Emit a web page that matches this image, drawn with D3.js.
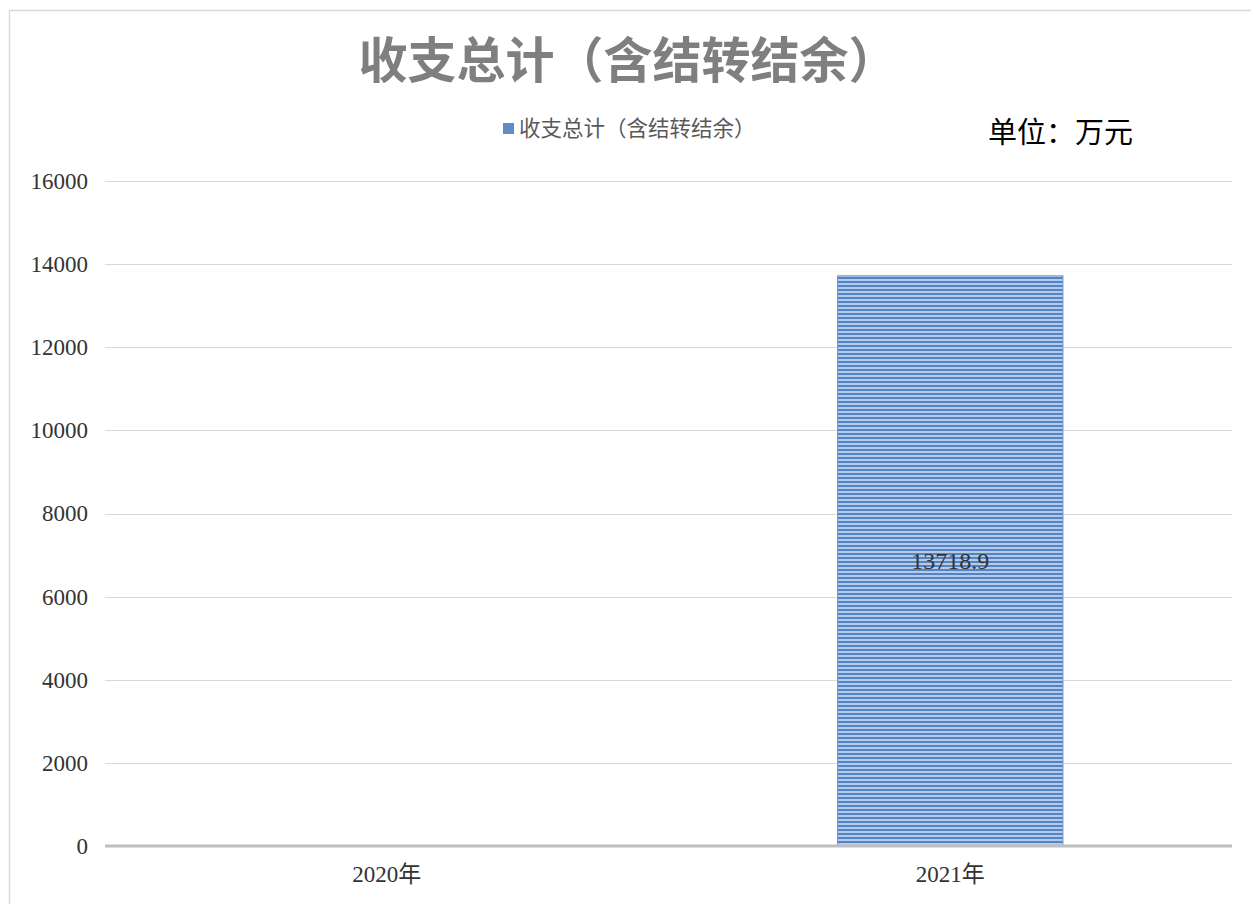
<!DOCTYPE html>
<html>
<head>
<meta charset="utf-8">
<script src="https://cdn.jsdelivr.net/npm/d3@7"></script>
<style>
  body { margin: 0; background: #fff; }
  svg { display: block; }
</style>
</head>
<body>
<div id="chart"></div>
<script>
// chart data
const categories = ["2020年", "2021年"];
const values = [0, 13718.9];
const yTicks = [0, 2000, 4000, 6000, 8000, 10000, 12000, 14000, 16000];
const seriesName = "收支总计（含结转结余）";
const titleText = "收支总计（含结转结余）";
const unitText = "单位：万元";

const W = 1251, H = 904;
const margin = { top: 181, right: 19, bottom: 58, left: 105 };
const width = W - margin.left - margin.right;
const height = H - margin.top - margin.bottom;

const serif = "'Liberation Serif', 'Noto Sans CJK SC', serif";
const cjk = "'Noto Sans CJK SC', sans-serif";

const svg = d3.select("#chart")
    .append("svg")
    .attr("width", W)
    .attr("height", H);

// striped fill for the bar
const defs = svg.append("defs");
const pat = defs.append("pattern")
    .attr("id", "stripes")
    .attr("patternUnits", "userSpaceOnUse")
    .attr("width", 8)
    .attr("height", 4);
pat.append("rect").attr("width", 8).attr("height", 4).attr("fill", "#b3cbec");
pat.append("rect").attr("y", 0).attr("width", 8).attr("height", 2).attr("fill", "#5583c2");

// outer chart border
svg.append("rect")
    .attr("x", 9.5)
    .attr("y", 10.5)
    .attr("width", W)
    .attr("height", H)
    .attr("fill", "none")
    .attr("stroke", "#d9d9d9")
    .attr("stroke-width", 1.5);

const g = svg.append("g")
    .attr("transform", `translate(${margin.left},${margin.top})`);

const x = d3.scaleBand()
    .domain(categories)
    .range([0, width])
    .paddingInner(0.6)
    .paddingOuter(0.3);

const y = d3.scaleLinear()
    .domain([0, 16000])
    .range([height, 0]);

// gridlines
g.append("g")
    .selectAll("line")
    .data(yTicks.filter(d => d > 0))
    .enter()
    .append("line")
    .attr("x1", 0)
    .attr("x2", width)
    .attr("y1", d => Math.round(y(d)) + 0.5)
    .attr("y2", d => Math.round(y(d)) + 0.5)
    .attr("stroke", "#d9d9d9")
    .attr("stroke-width", 1);

// y axis labels
const yAxis = g.append("g")
    .call(d3.axisLeft(y).tickValues(yTicks).tickSize(0).tickPadding(17).tickFormat(d3.format("d")));
yAxis.select(".domain").remove();
yAxis.selectAll("text")
    .style("font-family", serif)
    .style("font-size", "23px")
    .attr("fill", "#333");

// bars
g.selectAll("rect.bar")
    .data(values)
    .enter()
    .append("rect")
    .attr("class", "bar")
    .attr("x", (d, i) => x(categories[i]))
    .attr("y", d => y(d))
    .attr("width", x.bandwidth())
    .attr("height", d => height - y(d))
    .attr("fill", "url(#stripes)")
    .attr("stroke", "#6f97cc")
    .attr("stroke-width", 1);

// data label
g.selectAll("text.val")
    .data(values)
    .enter()
    .filter(d => d > 0)
    .append("text")
    .attr("class", "val")
    .attr("x", (d, i) => x(categories[values.indexOf(d)]) + x.bandwidth() / 2)
    .attr("y", d => (y(d) + height) / 2 + 8)
    .attr("text-anchor", "middle")
    .style("font-family", serif)
    .style("font-size", "24px")
    .attr("fill", "#333")
    .text(d => d3.format(".1f")(d));

// x axis
const xAxis = g.append("g")
    .attr("transform", `translate(0,${height})`)
    .call(d3.axisBottom(x).tickSize(0).tickPadding(20));
xAxis.select(".domain").remove();
xAxis.selectAll("text")
    .style("font-family", serif)
    .style("font-size", "23px")
    .attr("fill", "#333");
g.append("line")
    .attr("x1", 0)
    .attr("x2", width)
    .attr("y1", height)
    .attr("y2", height)
    .attr("stroke", "#bfbfbf")
    .attr("stroke-width", 3);

// title
svg.append("text")
    .attr("x", 628)
    .attr("y", 78)
    .attr("text-anchor", "middle")
    .style("font-family", cjk)
    .style("font-weight", "bold")
    .style("font-size", "49px")
    .attr("fill", "#7f7f7f")
    .text(titleText);

// legend
svg.append("rect")
    .attr("x", 503)
    .attr("y", 123)
    .attr("width", 11)
    .attr("height", 11)
    .attr("fill", "#5f8bc6");
svg.append("text")
    .attr("x", 519)
    .attr("y", 136)
    .style("font-family", cjk)
    .style("font-size", "21.5px")
    .attr("fill", "#595959")
    .text(seriesName);

// unit label
svg.append("text")
    .attr("x", 988)
    .attr("y", 143)
    .style("font-family", cjk)
    .style("font-size", "29px")
    .attr("fill", "#000")
    .text(unitText);
</script>
</body>
</html>
